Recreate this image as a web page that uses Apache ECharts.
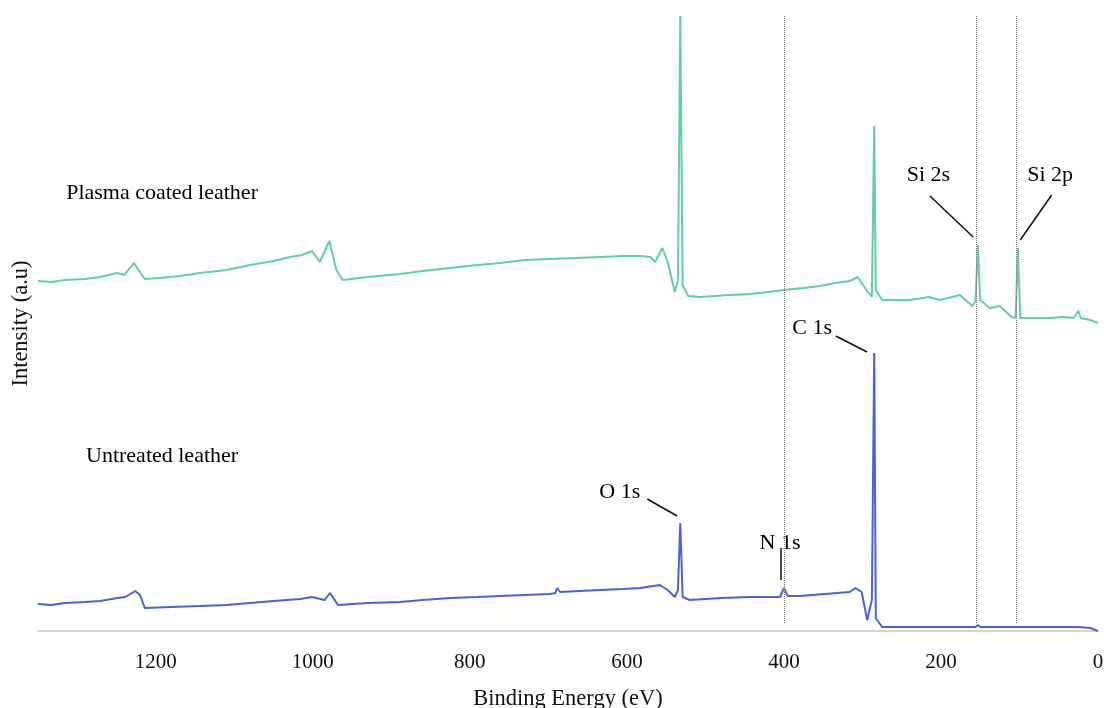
<!DOCTYPE html>
<html>
<head>
<meta charset="utf-8">
<script src="https://cdn.jsdelivr.net/npm/echarts@6/dist/echarts.min.js"></script>
<style>
  html, body { margin: 0; padding: 0; background: #ffffff; }
  #main { width: 1104px; height: 708px; }
</style>
</head>
<body>
<div id="main"></div>
<script>
// binding energy (eV) and intensity (a.u.)
const coatedEnergy = [1350, 1333, 1316, 1290, 1271, 1249, 1240, 1228, 1214, 1195, 1170, 1144, 1110, 1080, 1050, 1029,
  1014, 1001, 991, 979, 970, 962, 930, 889, 860, 825, 790, 762, 730, 698, 665, 634, 605, 583, 570, 564, 555, 548, 539,
  535, 532, 529, 522, 507, 470, 443, 420, 400, 375, 354, 335, 316, 306, 295, 288, 285, 283, 275, 240, 215, 201, 176,
  160, 156, 153, 150, 138, 125, 110, 105, 102, 99, 80, 61, 45, 31, 25, 22, 10, 0];
const coatedIntensity = [350, 349, 351, 352, 354, 358, 356, 368, 352, 353, 355, 358, 361, 366, 370, 374,
  376, 380, 369, 390, 361, 351, 354, 357, 360, 363, 366, 368, 371, 372, 373, 374, 375, 375, 374, 369, 383, 369, 339,
  351, 615, 346, 335, 334, 336, 337, 339, 341, 343, 345, 348, 350, 354, 341, 334, 505, 341, 331, 331, 334, 331, 336,
  325, 330, 386, 331, 323, 325, 314, 313, 383, 313, 313, 313, 314, 313, 320, 313, 311, 308];

const untreatedEnergy = [1350, 1333, 1316, 1290, 1271, 1249, 1239, 1226, 1220, 1214, 1180, 1144, 1110, 1080, 1050,
  1016, 1001, 985, 978, 968, 930, 889, 860, 825, 790, 762, 730, 698, 691, 689, 685, 660, 634, 605, 583, 558, 548, 539,
  535, 532, 529, 520, 480, 443, 405, 400, 395, 380, 348, 316, 309, 301, 294, 288, 285, 283, 275, 240, 201, 156, 153,
  150, 104, 102, 99, 60, 25, 10, 0];
const untreatedIntensity = [27, 26, 28, 29, 30, 33, 34, 40, 36, 23, 24, 25, 26, 28, 30,
  32, 34, 31, 38, 26, 28, 29, 31, 33, 34, 35, 36, 37, 38, 43, 39, 40, 41, 42, 43, 46, 41, 34,
  41, 108, 34, 31, 33, 34, 34, 43, 35, 35, 37, 39, 43, 39, 11, 31, 278, 13, 4, 4, 4, 4, 6,
  4, 4, 6, 4, 4, 4, 3, 0];

// reference lines (eV)
const guideEnergy = [400, 155, 104];

// annotation labels and their leader lines, in data coordinates
const labelText = ["Plasma coated leather", "Untreated leather", "Si 2s", "Si 2p", "C 1s", "O 1s", "N 1s"];
const labelEnergy = [1192, 1192, 216, 61, 364, 609, 405];
const labelIntensity = [438, 175, 456, 456, 303, 139, 88];
const leaderFrom = [[214, 435], [59, 436], [334, 295], [574, 132], [404, 83]];
const leaderTo = [[159, 394], [99, 391], [294, 279], [536, 115], [404, 51]];

const font = "'Liberation Serif', 'Times New Roman', serif";

function pairs(xs, ys) {
  return xs.map((x, i) => [x, ys[i]]);
}

const chart = echarts.init(document.getElementById("main"));
chart.setOption({
  animation: false,
  grid: { left: 38, right: 6, top: 16, bottom: 77, containLabel: false, outerBoundsMode: "none" },
  xAxis: {
    type: "value",
    min: 0,
    max: 1350,
    interval: 200,
    inverse: true,
    name: "Binding Energy (eV)",
    nameLocation: "middle",
    nameGap: 57,
    nameTextStyle: { fontFamily: font, fontSize: 22.5, color: "#111" },
    axisLine: { show: true, lineStyle: { color: "#c8c8c8", width: 1.5 } },
    axisTick: { show: false },
    splitLine: { show: false },
    axisLabel: {
      margin: 21,
      fontFamily: font,
      fontSize: 21,
      color: "#111",
      showMaxLabel: false,
      formatter: (v) => String(v),
    },
  },
  yAxis: {
    type: "value",
    min: 0,
    max: 615,
    name: "Intensity (a.u)",
    nameLocation: "middle",
    nameGap: 5,
    nameTextStyle: { fontFamily: font, fontSize: 22.5, color: "#111" },
    axisLine: { show: false },
    axisTick: { show: false },
    axisLabel: { show: false },
    splitLine: { show: false },
  },
  series: [
    {
      name: "Plasma coated leather",
      type: "line",
      symbol: "none",
      data: pairs(coatedEnergy, coatedIntensity),
      lineStyle: { color: "#5dcfae", width: 2 },
      z: 3,
    },
    {
      name: "Untreated leather",
      type: "line",
      symbol: "none",
      data: pairs(untreatedEnergy, untreatedIntensity),
      lineStyle: { color: "#4a62d4", width: 2 },
      z: 3,
    },
    {
      // dotted guides + leader lines
      type: "line",
      data: [],
      silent: true,
      markLine: {
        symbol: "none",
        silent: true,
        label: { show: false },
        data: guideEnergy
          .map((e) => [
            { coord: [e, 8], lineStyle: { color: "#777", type: "dotted", width: 1 } },
            { coord: [e, 615] },
          ])
          .concat(
            leaderFrom.map((p, i) => [
              { coord: p, lineStyle: { color: "#111", type: "solid", width: 1.5 } },
              { coord: leaderTo[i] },
            ])
          ),
      },
      z: 2,
    },
    {
      // text annotations
      type: "scatter",
      symbolSize: 0,
      silent: true,
      itemStyle: { opacity: 1 },
      data: labelText.map((t, i) => ({ value: [labelEnergy[i], labelIntensity[i]], name: t })),
      label: {
        show: true,
        position: "inside",
        formatter: "{b}",
        fontFamily: font,
        fontSize: 22,
        color: "#000",
      },
      z: 4,
    },
  ],
});
</script>
</body>
</html>
